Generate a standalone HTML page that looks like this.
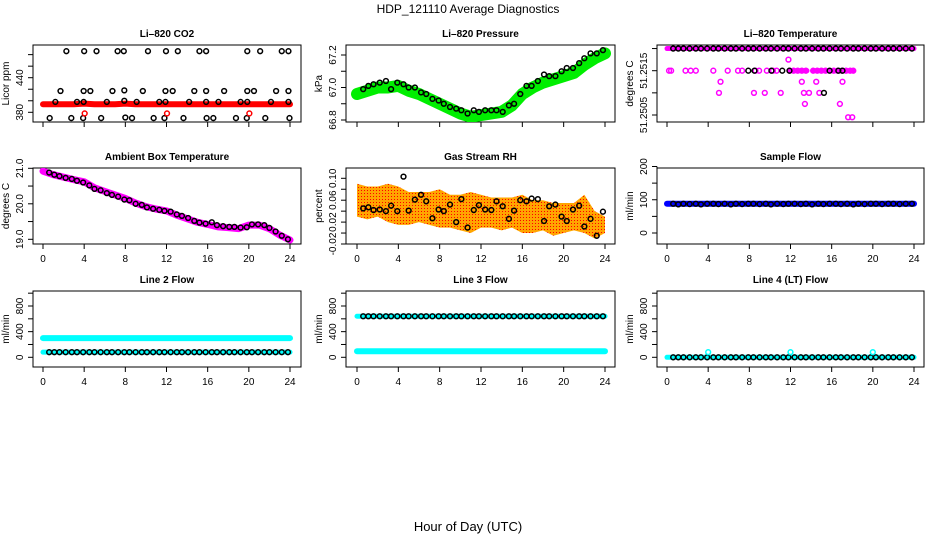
<!DOCTYPE html>
<html><head><meta charset="utf-8"><style>
html,body{margin:0;padding:0;background:#fff;}
svg{display:block;font-family:"Liberation Sans",Arial,sans-serif;}
</style></head><body>
<svg id="chart" width="936" height="540" viewBox="0 0 936 540">
<defs>
<pattern id="rhpat" width="3" height="3" patternUnits="userSpaceOnUse"><rect width="3" height="3" fill="#ffa500"/><rect x="1" y="1" width="1" height="1" fill="#ff0000"/></pattern>
</defs>
<text x="468" y="13" text-anchor="middle" font-size="12">HDP_121110  Average Diagnostics</text>
<text x="468" y="531" text-anchor="middle" font-size="13">Hour of Day (UTC)</text>
</svg>
<script>
// ---------- data ----------
const xTicks = [0,4,8,12,16,20,24];
const circHours = [0.6,1.1,1.6,2.2,2.8,3.3,3.9,4.5,5.0,5.6,6.2,6.7,7.3,7.9,8.4,9.0,9.6,10.1,10.7,11.3,11.8,12.4,13.0,13.5,14.1,14.7,15.2,15.8,16.4,16.9,17.5,18.1,18.6,19.2,19.8,20.3,20.9,21.5,22.0,22.6,23.2,23.8];
const bandHours = [0,1,2,3,4,5,6,7,8,9,10,11,12,13,14,15,16,17,18,19,20,21,22,23,24];

// CO2
const co2Band = [394,394,394,394,395,394,394,394,395,394,394,394,394,394,394,394,394,394,394,394,394,394,394,394,394];
const co2HighH = [2.27,4.0,5.2,7.25,7.85,10.2,11.95,13.1,15.2,15.85,19.85,21.1,23.2,23.85];
const co2HighV = [486,486,486,486,486,486,486,486,486,486,486,486,486,486];
const co2MidH = [1.7,3.95,4.6,6.75,7.9,9.7,11.9,12.6,14.7,15.85,17.6,19.85,20.5,22.65,23.85];
const co2MidV = [417,417,417,417,418,417,417,417,417,417,417,417,417,417,417];
const co2LowH = [1.2,3.3,3.95,6.2,7.9,9.1,11.3,11.9,14.2,15.85,17.05,19.2,19.85,22.15,23.85];
const co2LowV = [398,398,398,398,400,398,398,398,398,398,398,398,398,398,398];
const co2BotH = [0.65,2.75,3.9,5.65,8.0,8.65,10.75,11.8,13.65,15.9,16.55,18.75,19.8,21.6,23.95];
const co2BotV = [370,370,370,370,371,370,370,370,370,370,370,370,370,370,370];
const co2RedH = [4.05,12.05,20.05];
const co2RedV = [378,378,378];

// Pressure
const presBand = [66.96,66.98,67.0,67.0,67.01,66.98,66.96,66.93,66.90,66.87,66.84,66.82,66.83,66.84,66.85,66.89,66.96,67.0,67.03,67.05,67.07,67.09,67.14,67.18,67.21];
const presCirc = [66.99,67.01,67.02,67.03,67.04,66.99,67.03,67.02,67.0,67.0,66.97,66.96,66.93,66.92,66.90,66.88,66.87,66.86,66.84,66.86,66.85,66.86,66.86,66.86,66.85,66.89,66.90,66.96,67.01,67.01,67.04,67.08,67.07,67.07,67.10,67.12,67.12,67.15,67.18,67.21,67.21,67.23];

// Li-820 temperature
const ltTopCirc = [51.2520,51.2520,51.2520,51.2520,51.2520,51.2520,51.2520,51.2520,51.2520,51.2520,51.2520,51.2520,51.2520,51.2520,51.2520,51.2520,51.2520,51.2520,51.2520,51.2520,51.2520,51.2520,51.2520,51.2520,51.2520,51.2520,51.2520,51.2520,51.2520,51.2520,51.2520,51.2520,51.2520,51.2520,51.2520,51.2520,51.2520,51.2520,51.2520,51.2520,51.2520,51.2520];
const ltMagH = [0.2,0.4,1.8,2.3,2.8,4.5,5.9,6.9,7.3,8.6,8.95,9.7,10.3,10.65,11.9,12.3,12.7,13.1,13.5,14.2,14.6,15.0,15.4,16.2,16.6,17.0,17.4,17.8,18.1,11.8,5.2,13.1,14.5,17.05,5.05,8.45,9.5,11.05,13.3,13.8,14.8,13.4,16.8,17.6,18.0];
const ltMagV = [51.2515,51.2515,51.2515,51.2515,51.2515,51.2515,51.2515,51.2515,51.2515,51.2515,51.2515,51.2515,51.2515,51.2515,51.2515,51.2515,51.2515,51.2515,51.2515,51.2515,51.2515,51.2515,51.2515,51.2515,51.2515,51.2515,51.2515,51.2515,51.2515,51.25175,51.25125,51.25125,51.25125,51.25125,51.2510,51.2510,51.2510,51.2510,51.2510,51.2510,51.2510,51.25075,51.25075,51.25045,51.25045];
const ltBlkH = [7.9,8.5,10.15,11.2,11.9,15.8,16.65,17.05,15.25];
const ltBlkV = [51.2515,51.2515,51.2515,51.2515,51.2515,51.2515,51.2515,51.2515,51.2510];

// Ambient box temperature
const ambBand = [20.92,20.82,20.75,20.68,20.62,20.45,20.35,20.25,20.15,20.02,19.92,19.85,19.80,19.68,19.58,19.48,19.42,19.35,19.33,19.30,19.40,19.40,19.30,19.12,18.98];
const ambCirc = [20.88,20.82,20.78,20.73,20.70,20.65,20.60,20.52,20.42,20.38,20.30,20.25,20.20,20.12,20.10,20.0,19.97,19.90,19.86,19.83,19.80,19.78,19.70,19.66,19.60,19.52,19.47,19.44,19.48,19.40,19.37,19.35,19.35,19.33,19.34,19.42,19.42,19.40,19.32,19.22,19.10,19.00];

// RH
const rhUpper = [0.09,0.085,0.085,0.09,0.085,0.075,0.075,0.075,0.08,0.07,0.07,0.075,0.07,0.065,0.065,0.065,0.07,0.06,0.06,0.055,0.055,0.055,0.07,0.04,0.03];
const rhLower = [0.03,0.025,0.03,0.02,0.015,0.015,0.02,0.015,0.01,0.01,0.005,0.0,0.01,0.01,0.005,0.01,0.0,0.0,0.005,-0.005,0.0,0.005,0.0,-0.01,0.0];
const rhCirc = [0.045,0.047,0.042,0.043,0.040,0.050,0.040,0.103,0.041,0.061,0.070,0.058,0.027,0.043,0.040,0.052,0.020,0.062,0.010,0.042,0.051,0.043,0.042,0.058,0.049,0.026,0.041,0.060,0.058,0.063,0.062,0.022,0.049,0.052,0.030,0.022,0.043,0.050,0.012,0.026,-0.005,0.039];

// Flows
const sfBand = [88,88,88,88,88,88,88,88,88,88,88,88,88,88,88,88,88,88,88,88,88,88,88,88,88];
const sfCirc = [88,86,88,87,88,86,88,88,87,88,86,88,87,88,88,87,88,86,88,87,88,88,87,88,86,88,87,88,88,87,88,86,88,87,88,88,87,88,88,87,88,88];
const l2Band = [300,300,300,300,300,300,300,300,300,300,300,300,300,300,300,300,300,300,300,300,300,300,300,300,300];
const l2Circ = [80,80,80,80,80,80,80,80,80,80,80,80,80,80,80,80,80,80,80,80,80,80,80,80,80,80,80,80,80,80,80,80,80,80,80,80,80,80,80,80,80,80];
const l3Band = [95,95,95,95,95,95,95,95,95,95,95,95,95,95,95,95,95,95,95,95,95,95,95,95,95];
const l3Circ = [640,640,640,640,640,640,640,640,640,640,640,640,640,640,640,640,640,640,640,640,640,640,640,640,640,640,640,640,640,640,640,640,640,640,640,640,640,640,640,640,640,640];
const l4Circ = [0,0,0,0,0,0,0,0,0,0,0,0,0,0,0,0,0,0,0,0,0,0,0,0,0,0,0,0,0,0,0,0,0,0,0,0,0,0,0,0,0,0];
const l4SpikeH = [4.0,12.0,20.0];
const l4SpikeV = [80,80,80];

const co2Ticks=[380,400,420,440,460,480], co2Labels=[380,440];
const presTicks=[66.8,66.9,67.0,67.1,67.2], presLabels=["66.8","67.0","67.2"];
const ltTicks=[51.2505,51.2510,51.2515,51.2520], ltLabels=["51.2505","51.2515"];
const ambTicks=[19.0,19.5,20.0,20.5,21.0], ambLabels=["19.0","20.0","21.0"];
const rhTicks=[-0.02,0,0.02,0.04,0.06,0.08,0.10], rhLabels=["-0.02","0.02","0.06","0.10"];
const sfTicks=[0,50,100,150,200], sfLabels=["0","100","200"];
const flTicks=[0,200,400,600,800,1000], flLabels=["0","400","800"];

// ---------- drawing ----------
const NS="http://www.w3.org/2000/svg";
const svg=document.getElementById('chart');
const colX0=[43,357,667], colX24=[290,605,914], boxL=[33,346,657], boxR=[301,615,924];
const rowT=[45,168,291], rowB=[122,244,367];
function mk(tag,attrs,parent){const e=document.createElementNS(NS,tag);for(const k in attrs)e.setAttribute(k,attrs[k]);(parent||svg).appendChild(e);return e;}

function panel(c,r,name,title,ylab,vA,pA,vB,pB,ticks,labels,showXLabels){
  const g=mk('g',{});
  
  
  const sx=h=>colX0[c]+h*(colX24[c]-colX0[c])/24;
  const sy=v=>pA+(v-vA)*(pB-pA)/(vB-vA);
  const L=boxL[c],R=boxR[c],T=rowT[r],B=rowB[r];
  const t=mk('text',{x:(L+R)/2,y:T-8,'text-anchor':'middle','font-size':'10','font-weight':'bold'},g);
  t.textContent=title;
  
  
  const box=mk('rect',{x:L,y:T,width:R-L,height:B-T,fill:'none',stroke:'#000','stroke-width':1},g);
  
  
  const xa=mk('g',{},g);
  
  
  mk('line',{x1:sx(0),x2:sx(24),y1:B,y2:B,stroke:'#000'},xa);
  xTicks.forEach(h=>{
    mk('line',{x1:sx(h),x2:sx(h),y1:B,y2:B+5,stroke:'#000'},xa);
    if(showXLabels){const tl=mk('text',{x:sx(h),y:B+18,'text-anchor':'middle','font-size':'10'},xa);tl.textContent=h;}
  });
  const ya=mk('g',{},g);
  
  
  mk('line',{x1:L,x2:L,y1:sy(ticks[0]),y2:sy(ticks[ticks.length-1]),stroke:'#000'},ya);
  ticks.forEach(v=>mk('line',{x1:L-5,x2:L,y1:sy(v),y2:sy(v),stroke:'#000'},ya));
  labels.forEach(v=>{const y=sy(parseFloat(v));const tl=mk('text',{x:L-10,y:y,'text-anchor':'middle','font-size':'10',transform:`rotate(-90 ${L-10} ${y})`},ya);tl.textContent=v;});
  const yl=mk('text',{x:L-24,y:(T+B)/2,'text-anchor':'middle','font-size':'10',transform:`rotate(-90 ${L-24} ${(T+B)/2})`},g);
  yl.textContent=ylab;
  
  
  const clipId='clip'+c+r;
  const cp=mk('clipPath',{id:clipId},g);mk('rect',{x:L,y:T,width:R-L,height:B-T},cp);
  const dg=mk('g',{'clip-path':`url(#${clipId})`},g);
  
  
  return {sx,sy,g:dg};
}
function band(p,hs,vs,color,w,name){
  const pl=mk('polyline',{points:hs.map((h,i)=>p.sx(h)+','+p.sy(vs[i])).join(' '),fill:'none',stroke:color,'stroke-width':w,'stroke-linejoin':'round','stroke-linecap':'round'},p.g);
  
  
}
function pts(p,hs,vs,color,name){
  hs.forEach((h,i)=>{
    const ci=mk('circle',{cx:p.sx(h),cy:p.sy(vs[i]),r:2.4,fill:'none',stroke:color,'stroke-width':1.5},p.g);
    
    
  });
}

let p=panel(0,0,'co2','Li\u2013820 CO2','Licor ppm',380,112.3,440,77.7,co2Ticks,co2Labels.map(String),false);
band(p,bandHours,co2Band,'#ff0000',6,'co2-band');
pts(p,co2HighH,co2HighV,'#000','co2-point');pts(p,co2MidH,co2MidV,'#000','co2-point');
pts(p,co2LowH,co2LowV,'#000','co2-point');pts(p,co2BotH,co2BotV,'#000','co2-point');
pts(p,co2RedH,co2RedV,'#ff0000','co2-red-point');
p=panel(1,0,'pressure','Li\u2013820 Pressure','kPa',66.8,120,67.2,55,presTicks,presLabels,false);
band(p,bandHours,presBand,'#00ee00',12,'pressure-band');
pts(p,circHours,presCirc,'#000','pressure-point');
p=panel(2,0,'li-temperature','Li\u2013820 Temperature','degrees C',51.2505,115,51.2515,70.7,ltTicks,ltLabels,false);
band(p,[0,24],[51.2520,51.2520],'#ff00ff',5,'li-temp-band');
band(p,[11.9,13.6],[51.2515,51.2515],'#ff00ff',5,'li-temp-band-2');
band(p,[14.2,18.1],[51.2515,51.2515],'#ff00ff',5,'li-temp-band-3');
pts(p,ltMagH,ltMagV,'#ff00ff','li-temp-magenta-point');
pts(p,circHours,ltTopCirc,'#000','li-temp-point');
pts(p,ltBlkH,ltBlkV,'#000','li-temp-point');
p=panel(0,1,'ambient-temperature','Ambient Box Temperature','degrees C',19.0,239.3,21.0,168.3,ambTicks,ambLabels,true);
band(p,bandHours,ambBand,'#ff00ff',7,'ambient-band');
pts(p,circHours,ambCirc,'#000','ambient-point');
p=panel(1,1,'gas-rh','Gas Stream RH','percent',-0.02,244,0.10,178.3,rhTicks,rhLabels,true);
{const up=bandHours.map((h,i)=>p.sx(h)+','+p.sy(rhUpper[i]));const lo=bandHours.map((h,i)=>p.sx(h)+','+p.sy(rhLower[i])).reverse();
 const pg=mk('polygon',{points:up.concat(lo).join(' '),fill:'url(#rhpat)'},p.g);
 
 }
pts(p,circHours,rhCirc,'#000','rh-point');
p=panel(2,1,'sample-flow','Sample Flow','ml/min',0,233,200,166.5,sfTicks,sfLabels,true);
band(p,bandHours,sfBand,'#0000ff',6,'sample-flow-band');
pts(p,circHours,sfCirc,'#000','sample-flow-point');
p=panel(0,2,'line2-flow','Line 2 Flow','ml/min',0,357.3,800,306,flTicks,flLabels,true);
band(p,bandHours,l2Band,'#00ffff',6,'line2-band');
band(p,bandHours,l2Circ.slice(0,25),'#00ffff',5,'line2-low-band');
pts(p,circHours,l2Circ,'#000','line2-point');
p=panel(1,2,'line3-flow','Line 3 Flow','ml/min',0,357.3,800,306,flTicks,flLabels,true);
band(p,bandHours,l3Band,'#00ffff',6,'line3-band');
band(p,bandHours,l3Circ.slice(0,25),'#00ffff',5,'line3-high-band');
pts(p,circHours,l3Circ,'#000','line3-point');
p=panel(2,2,'line4-flow','Line 4 (LT) Flow','ml/min',0,357.3,800,306,flTicks,flLabels,true);
band(p,bandHours,l4Circ.slice(0,25),'#00ffff',5,'line4-band');
pts(p,circHours,l4Circ,'#000','line4-point');
pts(p,l4SpikeH,l4SpikeV,'#00ffff','line4-spike');
</script>
</body></html>
